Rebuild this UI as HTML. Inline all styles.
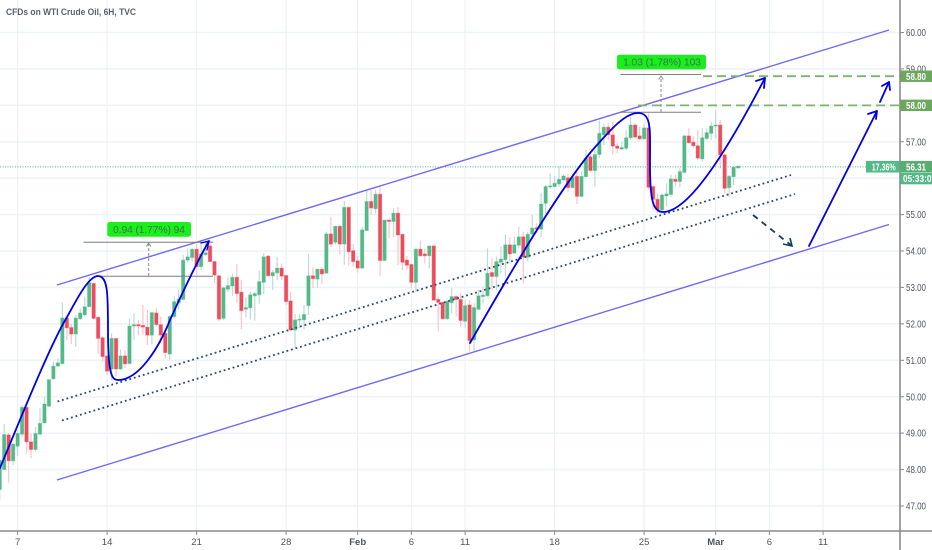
<!DOCTYPE html>
<html lang="en">
<head>
<meta charset="utf-8">
<title>CFDs on WTI Crude Oil, 6H, TVC</title>
<style>
html,body{margin:0;padding:0;background:#fff;width:932px;height:550px;overflow:hidden}
svg{display:block;font-family:"Liberation Sans",sans-serif}
</style>
</head>
<body>
<svg id="chart" width="932" height="550" viewBox="0 0 932 550" xmlns="http://www.w3.org/2000/svg">
  <rect width="932" height="550" fill="#ffffff"/>
  <g id="grid"></g>
  <g id="candles"></g>
  <g id="price-line-layer"></g>

  <line x1="57" y1="285" x2="889" y2="30" stroke="#6f68f2" stroke-width="1.4"/>
  <line x1="57" y1="480" x2="889" y2="224.5" stroke="#6f68f2" stroke-width="1.4"/>
  <line x1="57.5" y1="401.5" x2="791" y2="175" stroke="#2b4a68" stroke-width="1.8" stroke-dasharray="1.8 2.9"/>
  <line x1="62" y1="420.5" x2="795" y2="194" stroke="#2b4a68" stroke-width="1.8" stroke-dasharray="1.8 2.9"/>

  <g id="levels"></g>

  <g>
    <line x1="83.5" y1="242.3" x2="213" y2="242.3" stroke="#7f7f7f" stroke-width="1"/>
    <line x1="98" y1="276.3" x2="213" y2="276.3" stroke="#7f7f7f" stroke-width="1"/>
    <line x1="148.7" y1="276" x2="148.7" y2="244" stroke="#8a8a8a" stroke-width="1" stroke-dasharray="3 2"/>
    <path d="M146.5 246.5 L148.7 243 L151 246.5" fill="none" stroke="#8a8a8a" stroke-width="1"/>
    <rect x="107.3" y="222" width="83.7" height="14.7" rx="2.5" fill="#19f019"/>
    <text x="113" y="233" font-size="10.5" fill="#3f6f5a" textLength="72" lengthAdjust="spacing">0.94 (1.77%) 94</text>
  </g>
  <g>
    <line x1="620.5" y1="74.5" x2="701" y2="74.5" stroke="#7f7f7f" stroke-width="1"/>
    <line x1="620.5" y1="112.3" x2="701" y2="112.3" stroke="#7f7f7f" stroke-width="1"/>
    <line x1="661" y1="112" x2="661" y2="76" stroke="#8a8a8a" stroke-width="1" stroke-dasharray="3 2"/>
    <path d="M658.7 79.5 L661 76 L663.3 79.5" fill="none" stroke="#8a8a8a" stroke-width="1"/>
    <rect x="617" y="54.7" width="89" height="14.7" rx="2.5" fill="#19f019"/>
    <text x="623" y="65.7" font-size="10.5" fill="#3f6f5a" textLength="78" lengthAdjust="spacing">1.03 (1.78%) 103</text>
  </g>

  <g fill="none" stroke="#0000e6" stroke-width="1.8" stroke-linecap="round" stroke-linejoin="round">
    <path d="M0 468 C20 420 50 345 67 317 C75 303 88 276 98 276 C108 276 108 295 108 330 C108 375 112 380 118 380 C140 380 160 345 170 320 C180 298 195 265 209 241"/>
    <path d="M201 243 L209 241 L207 250" stroke-width="1.3"/>
    <path d="M470 343 C520 255 560 190 590 153 C610 130 625 113 638 113 C652 113 650 130 650 165 C650 200 653 212 663 212 C690 212 730 145 765 78"/>
    <path d="M756 81 L765 78 L764 88"/>
    <path d="M809 246 L877 111"/>
    <path d="M868 114 L877 111 L876 119"/>
    <path d="M880 102 L889 82"/>
    <path d="M882 86 L889 82 L890 90"/>
  </g>
  <path d="M753 215 L792 246" fill="none" stroke="#123a62" stroke-width="1.8" stroke-dasharray="6 5"/>
  <path d="M783 244 L792 246 L790 238" fill="none" stroke="#123a62" stroke-width="1.6"/>

  <g id="axes"></g>

  <text x="6" y="15" font-size="9.3" font-weight="bold" fill="#5d606b" textLength="130" lengthAdjust="spacingAndGlyphs">CFDs on WTI Crude Oil, 6H, TVC</text>
</svg>

<script>
const categoryLabels = ["7","14","21","28","Feb","6","11","18","25","Mar","6","11"];
const categoryIndex = [4,24,44,64,80,92,104,124,144,160,172,184];
const priceTicks = [60,59,58,57,56,55,54,53,52,51,50,49,48,47];
const targetLevels = [58.80,58.00];
const levelStarts = [703,638];
const lastPrice = 56.31;
const lastPercent = "17.36%";
const countdown = "05:33:01";

const opens = [47.45,48.00,48.95,48.24,48.64,48.97,49.71,48.76,48.55,48.97,49.28,49.74,50.49,50.84,50.91,52.16,51.90,51.72,52.14,52.25,52.47,53.11,52.18,51.62,51.12,50.76,51.60,50.76,51.12,50.91,51.94,51.98,51.96,51.91,51.69,52.30,51.98,51.74,51.17,52.20,52.58,52.67,53.75,53.82,54.05,53.57,53.90,54.14,53.71,53.32,52.15,52.95,
53.04,53.28,52.87,52.40,52.44,52.77,52.80,53.14,53.86,53.32,53.40,53.53,53.33,52.63,51.83,52.10,52.11,52.50,53.32,53.23,53.50,53.39,54.47,54.24,54.68,54.19,55.20,54.01,53.73,53.53,54.56,55.36,55.16,55.56,53.74,54.85,54.81,55.04,54.46,53.75,53.63,53.14,54.05,53.92,53.87,54.14,52.67,52.59,52.14,52.58,52.75,52.67,
52.07,52.52,51.56,52.40,52.75,52.77,53.41,53.30,53.69,53.76,54.17,53.94,54.16,54.39,53.83,54.47,54.64,54.60,55.31,55.76,55.77,55.84,55.95,56.01,55.74,56.05,55.50,56.04,56.59,56.21,56.65,57.19,57.40,57.19,56.88,56.80,56.82,57.11,57.46,57.16,57.08,57.38,55.77,55.42,55.13,55.51,55.55,55.97,55.91,56.16,57.16,56.99,56.89,56.53,57.09,57.23,57.43,57.46,56.64,55.74,56.04,56.28];
const highs = [48.30,49.25,49.00,48.70,49.08,49.77,49.72,48.99,49.17,49.68,50.00,50.47,50.96,51.05,52.59,52.20,52.01,52.24,52.42,52.74,53.29,53.13,52.20,51.65,51.14,51.74,51.60,51.30,51.28,52.15,52.29,52.10,52.52,52.38,52.31,52.45,52.20,51.78,52.24,52.76,52.95,53.89,54.07,54.07,54.21,54.30,54.30,54.28,53.73,53.34,53.02,53.28,
53.37,53.64,53.20,52.73,52.88,52.88,53.46,53.94,53.89,53.48,53.83,53.66,53.34,52.88,52.27,52.27,52.52,53.92,53.55,53.52,53.55,54.53,54.94,54.68,54.71,55.38,55.22,54.19,53.86,54.67,55.68,55.68,55.68,55.75,54.85,54.90,55.17,55.20,54.46,53.86,53.64,54.07,54.28,54.07,54.14,54.17,52.75,52.61,52.65,53.00,52.79,52.84,
52.66,52.66,52.56,52.93,53.02,54.07,53.80,53.85,54.12,54.46,54.39,54.39,54.67,54.53,54.53,54.99,54.76,55.60,55.81,56.13,56.06,56.32,56.11,56.11,56.11,56.18,56.18,56.77,56.68,56.77,57.58,57.49,57.51,57.55,56.96,57.00,57.32,57.69,57.51,57.41,57.51,57.78,55.81,55.58,55.58,55.86,56.09,56.09,56.27,57.19,57.37,57.14,57.32,57.37,57.37,57.55,57.87,57.60,56.68,56.09,56.32,56.35];
const lows = [47.15,47.99,47.64,48.12,48.37,48.90,48.44,48.31,48.49,48.95,49.27,49.72,50.47,50.82,50.89,51.55,51.45,51.37,52.10,52.20,52.45,52.12,51.19,50.96,50.59,50.46,50.55,50.73,50.78,50.89,51.55,51.69,51.69,51.42,51.44,51.92,51.46,51.05,51.01,52.15,52.38,52.65,53.71,53.71,53.34,53.48,53.86,53.70,53.13,52.06,52.10,52.88,
52.76,52.58,51.85,52.18,52.12,52.09,52.55,52.82,53.30,52.93,53.20,53.20,52.52,51.81,51.33,51.88,51.85,52.24,52.98,52.98,53.11,53.39,54.12,54.17,53.92,53.62,53.59,53.57,53.41,53.52,54.56,54.99,55.03,53.30,53.73,54.35,54.39,53.62,53.48,53.48,52.97,52.88,53.84,53.66,53.52,52.65,51.79,52.12,52.11,52.29,52.20,51.92,
51.89,51.24,51.24,52.38,52.56,52.75,52.93,52.93,53.39,53.30,53.66,53.94,54.07,53.11,53.71,54.35,54.49,54.39,55.03,55.72,55.75,55.75,55.93,55.63,55.72,55.29,55.47,56.02,56.18,55.77,56.55,56.91,57.05,56.64,56.68,56.77,56.77,57.05,57.09,57.05,57.05,55.69,55.13,55.03,55.03,55.22,55.49,55.77,55.75,56.13,56.96,56.82,56.50,56.45,57.05,57.05,57.09,56.27,55.58,55.49,55.81,56.26];
const closes = [48.25,48.96,48.24,48.70,48.99,49.71,48.76,48.55,48.99,49.27,49.80,50.47,50.84,50.93,52.16,51.89,51.72,52.16,52.30,52.47,53.13,52.15,51.60,51.10,50.70,51.60,50.76,51.12,50.90,51.94,51.98,51.94,51.91,51.69,52.31,51.98,51.69,51.21,52.20,52.61,52.68,53.75,53.84,54.05,53.57,53.92,53.95,53.71,53.34,52.13,52.99,53.05,
53.28,52.83,52.36,52.45,52.80,52.83,53.16,53.84,53.32,53.41,53.53,53.31,52.61,51.83,52.11,52.13,52.26,53.32,53.24,53.50,53.37,54.47,54.19,54.68,54.19,55.20,53.98,53.71,53.53,54.58,55.36,55.18,55.56,53.74,54.85,54.81,55.04,54.44,53.69,53.61,53.14,54.05,53.87,53.87,54.14,52.65,52.59,52.14,52.62,52.75,52.67,52.09,
52.50,51.54,52.45,52.77,52.79,53.39,53.30,53.71,53.78,54.17,53.92,54.17,54.39,53.83,54.46,54.63,54.60,55.29,55.77,55.79,55.86,55.97,56.06,55.74,56.02,55.50,56.05,56.55,56.21,56.65,57.23,57.40,57.19,56.88,56.82,56.84,57.11,57.46,57.13,57.08,57.38,55.75,55.42,55.13,55.54,55.57,55.98,55.91,56.18,57.16,56.97,56.89,56.55,57.11,57.25,57.43,57.46,56.64,55.72,56.05,56.30,56.33];

const NS = 'http://www.w3.org/2000/svg';
const AXIS_X = 900;
const AXIS_Y = 531;
function xScale(i){ return -0.3 + 4.475 * i; }
function yScale(p){ return 32.5 + (60 - p) * 36.42; }
function make(tag, attrs, parent){
  const el = document.createElementNS(NS, tag);
  for (const k in attrs) el.setAttribute(k, attrs[k]);
  parent.appendChild(el);
  return el;
}

const grid = document.getElementById('grid');
priceTicks.forEach(function(p){
  const l = make('line', {x1:0, x2:AXIS_X, y1:yScale(p), y2:yScale(p), stroke:'#eef3f9', 'stroke-width':1.6}, grid);
  
  
});
categoryIndex.forEach(function(i){
  const l = make('line', {x1:xScale(i), x2:xScale(i), y1:0, y2:AXIS_Y, stroke:'#e8f0f6', 'stroke-width':1}, grid);
  
  
});

const candles = document.getElementById('candles');
opens.forEach(function(o, i){
  const c = closes[i];
  const up = c >= o;
  const x = xScale(i);
  const g = make('g', {}, candles);
  
  
  const wick = make('line', {x1:x, x2:x, y1:yScale(highs[i]), y2:yScale(lows[i]), stroke: up ? '#bcdcd6' : '#fbc3ca', 'stroke-width':1.2}, g);
  
  
  const top = yScale(Math.max(o, c));
  const h = Math.max(1, Math.abs(yScale(o) - yScale(c)));
  const colour = up ? '#53b987' : '#eb4d5c';
  const body = make('rect', {x:x - 1.7, y:top, width:3.4, height:h, fill:colour, stroke:colour, 'stroke-opacity':0.35, 'stroke-width':1}, g);
  
  
});

const priceLayer = document.getElementById('price-line-layer');
const priceLine = make('line', {x1:0, x2:866, y1:yScale(lastPrice), y2:yScale(lastPrice), stroke:'#53b987', 'stroke-width':1, 'stroke-dasharray':'1 1.5'}, priceLayer);



const levels = document.getElementById('levels');
targetLevels.forEach(function(p, i){
  const l = make('line', {x1:levelStarts[i], x2:AXIS_X, y1:yScale(p), y2:yScale(p), stroke:'#7eb36a', 'stroke-width':1.8, 'stroke-dasharray':'9 5'}, levels);
  
  
});

const axes = document.getElementById('axes');
const axisBg = make('rect', {x:0, y:AXIS_Y, width:932, height:19, fill:'#ffffff'}, axes);


const xAxis = make('line', {x1:0, x2:932, y1:AXIS_Y, y2:AXIS_Y, stroke:'#8a8a8a', 'stroke-width':1.6}, axes);


const yAxis = make('line', {x1:AXIS_X, x2:AXIS_X, y1:0, y2:550, stroke:'#8a8a8a', 'stroke-width':1.6}, axes);



priceTicks.forEach(function(p){
  const y = yScale(p);
  const t = make('line', {x1:AXIS_X, x2:AXIS_X + 4, y1:y, y2:y, stroke:'#8a8a8a', 'stroke-width':1}, axes);
  
  
  const lab = make('text', {x:906, y:y + 3.6, 'font-size':10, fill:'#50535e', textLength:20, lengthAdjust:'spacingAndGlyphs'}, axes);
  
  
  lab.textContent = p.toFixed(2);
});

categoryIndex.forEach(function(i, n){
  const x = xScale(i);
  const t = make('line', {x1:x, x2:x, y1:AXIS_Y, y2:AXIS_Y + 4, stroke:'#8a8a8a', 'stroke-width':1}, axes);
  
  
  const lab = make('text', {x:x, y:545, 'text-anchor':'middle', 'font-size':9.5, fill:'#50535e', 'font-weight':(categoryLabels[n] === 'Feb' || categoryLabels[n] === 'Mar') ? 'bold' : 'normal'}, axes);
  
  
  lab.textContent = categoryLabels[n];
});

targetLevels.forEach(function(p){
  const y = yScale(p);
  const r = make('rect', {x:AXIS_X + 0.5, y:y - 5.7, width:32, height:11.4, fill:'#6aa85c'}, axes);
  
  
  const lab = make('text', {x:906, y:y + 3.6, 'font-size':10, 'font-weight':'bold', fill:'#ffffff', textLength:20, lengthAdjust:'spacingAndGlyphs'}, axes);
  
  
  lab.textContent = p.toFixed(2);
});

const yLast = yScale(lastPrice);
const pctBg = make('rect', {x:866, y:yLast - 6, width:33.5, height:11.6, fill:'#53b987'}, axes);


const pct = make('text', {x:871.7, y:yLast + 3.5, 'font-size':10, 'font-weight':'bold', fill:'#ffffff', textLength:24, lengthAdjust:'spacingAndGlyphs'}, axes);


pct.textContent = lastPercent;
const priceBg = make('rect', {x:AXIS_X + 0.5, y:yLast - 6, width:32, height:11.6, fill:'#5aad70'}, axes);


const priceText = make('text', {x:906, y:yLast + 3.6, 'font-size':10, 'font-weight':'bold', fill:'#ffffff', textLength:20, lengthAdjust:'spacingAndGlyphs'}, axes);


priceText.textContent = lastPrice.toFixed(2);
const cdBg = make('rect', {x:AXIS_X + 0.5, y:yLast + 6, width:32, height:11.4, fill:'#53b987'}, axes);


const cd = make('text', {x:903, y:yLast + 15.3, 'font-size':10, 'font-weight':'bold', fill:'#ffffff', textLength:33, lengthAdjust:'spacingAndGlyphs'}, axes);


cd.textContent = countdown;
</script>
</body>
</html>
